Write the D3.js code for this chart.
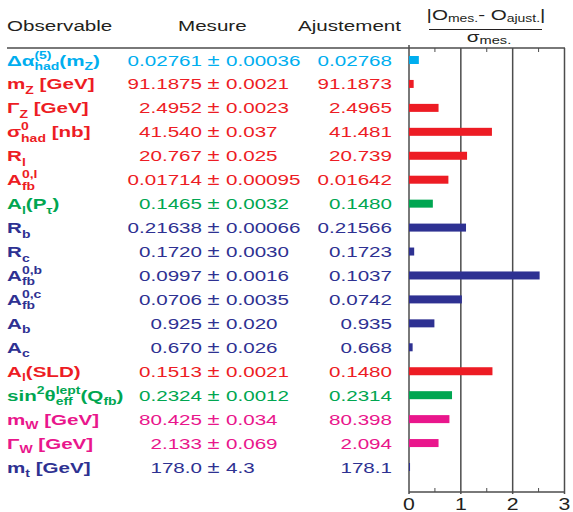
<!DOCTYPE html>
<html>
<head>
<meta charset="utf-8">
<script src="https://cdn.jsdelivr.net/npm/d3@7"></script>
<style>
  html, body { margin: 0; padding: 0; background: #fff; }
  text { font-family: "Liberation Sans", Arial, sans-serif; }
</style>
</head>
<body>
<svg id="canvas" width="573" height="512"></svg>
<script>
// observables, _x / _{..} subscript, ^x / ^{..} superscript
const observables = [
  "Δα^{(5)}_{had}(m_Z)", "m_Z [GeV]", "Γ_Z [GeV]", "σ^0_{had} [nb]", "R_l", "A^{0,l}_{fb}",
  "A_l(P_τ)", "R_b", "R_c", "A^{0,b}_{fb}", "A^{0,c}_{fb}", "A_b", "A_c", "A_l(SLD)",
  "sin^2θ^{lept}_{eff}(Q_{fb})", "m_W [GeV]", "Γ_W [GeV]", "m_t [GeV]"
];
const measured = ["0.02761", "91.1875", "2.4952", "41.540", "20.767", "0.01714", "0.1465", "0.21638",
  "0.1720", "0.0997", "0.0706", "0.925", "0.670", "0.1513", "0.2324", "80.425", "2.133", "178.0"];
const errors = ["0.00036", "0.0021", "0.0023", "0.037", "0.025", "0.00095", "0.0032", "0.00066",
  "0.0030", "0.0016", "0.0035", "0.020", "0.026", "0.0021", "0.0012", "0.034", "0.069", "4.3"];
const fitted = ["0.02768", "91.1873", "2.4965", "41.481", "20.739", "0.01642", "0.1480", "0.21566",
  "0.1723", "0.1037", "0.0742", "0.935", "0.668", "0.1480", "0.2314", "80.398", "2.094", "178.1"];
const pulls = [0.19, 0.09, 0.57, 1.60, 1.12, 0.76, 0.46, 1.10, 0.10, 2.52, 1.02, 0.49, 0.07, 1.61, 0.83, 0.78, 0.57, 0.02];
const groups = ["had", "z", "z", "z", "z", "z", "tau", "hf", "hf", "hf", "hf", "hf", "hf", "z", "tau", "w", "w", "hf"];
const axisTicks = [0, 1, 2, 3];

const groupColor = {
  had: "#00aeef", z: "#ed1c24", tau: "#00a651", hf: "#2e3192", w: "#e9168c"
};

const SX = 1.33;      // text in the picture is stretched horizontally
const FS = 15.5;
const ink = "#231f20";
const gridCol = "#4d4d4d";

const svg = d3.select("#canvas");

const x = d3.scaleLinear().domain([0, 3]).range([409, 564.5]);
const y = d3.scalePoint().domain(d3.range(observables.length)).range([60, 467]);

function parseLabel(s) {
  const segs = [];
  const re = /([\^_])(\{([^}]*)\}|(.))/g;
  let last = 0, m;
  while ((m = re.exec(s))) {
    if (m.index > last) segs.push({t: s.slice(last, m.index), k: "n"});
    segs.push({t: m[3] !== undefined ? m[3] : m[4], k: m[1] === "^" ? "sup" : "sub"});
    last = re.lastIndex;
  }
  if (last < s.length) segs.push({t: s.slice(last), k: "n"});
  return segs;
}

function richText(sel, segs, opts) {
  const off = {n: 0, sup: opts.sup, sub: opts.sub};
  let cur = 0;
  const spans = segs.map(s => {
    const ts = sel.append("tspan").text(s.t)
      .attr("font-size", s.k === "n" ? FS : opts.small)
      .attr("dy", off[s.k] - cur);
    cur = off[s.k];
    return {ts, s};
  });
  // stack a subscript under a preceding superscript
  for (let i = 1; i < spans.length; i++) {
    const a = spans[i - 1], b = spans[i];
    if (a.s.k === "sup" && b.s.k === "sub") {
      const wa = a.ts.node().getComputedTextLength();
      b.ts.attr("dx", -wa);
      const wb = b.ts.node().getComputedTextLength();
      if (wa > wb && spans[i + 1]) spans[i + 1].ts.attr("dx", wa - wb);
    }
  }
}

function txt(px, py, anchor, color) {
  return svg.append("text")
    .attr("transform", `translate(${px},${py}) scale(${SX},1)`)
    .attr("text-anchor", anchor)
    .attr("font-size", FS)
    .attr("fill", color);
}

// Header
txt(7, 31, "start", ink).text("Observable");
txt(178, 31, "start", ink).text("Mesure");
txt(298, 31, "start", ink).text("Ajustement");
richText(txt(486, 20, "middle", ink), parseLabel("|O_{mes.}- O_{ajust.}|"), {sup: -5, sub: 1.5, small: 10.5});
richText(txt(489, 42, "middle", ink), parseLabel("σ_{mes.}"), {sup: -5, sub: 1.5, small: 11});
svg.append("line").attr("x1", 429).attr("x2", 542).attr("y1", 29.5).attr("y2", 29.5)
  .attr("stroke", ink).attr("stroke-width", 1.2);

svg.append("line").attr("x1", 7).attr("x2", 565).attr("y1", 48).attr("y2", 48)
  .attr("stroke", gridCol).attr("stroke-width", 1.3);

// Grid and axis
svg.selectAll("line.grid").data(axisTicks).enter().append("line")
  .attr("class", "grid")
  .attr("x1", d => x(d)).attr("x2", d => x(d))
  .attr("y1", d => d === 0 ? 45 : 48).attr("y2", 494)
  .attr("stroke", gridCol).attr("stroke-width", 1.5);

svg.append("line").attr("x1", x(0)).attr("x2", x(3)).attr("y1", 492).attr("y2", 492)
  .attr("stroke", gridCol).attr("stroke-width", 1.3);

const minor = [0.5, 1.5, 2.5];
svg.selectAll("line.mtop").data(minor).enter().append("line")
  .attr("x1", d => x(d)).attr("x2", d => x(d)).attr("y1", 48).attr("y2", 52)
  .attr("stroke", gridCol).attr("stroke-width", 1);
svg.selectAll("line.mbot").data(minor).enter().append("line")
  .attr("x1", d => x(d)).attr("x2", d => x(d)).attr("y1", 492).attr("y2", 488)
  .attr("stroke", gridCol).attr("stroke-width", 1);

axisTicks.forEach(t => txt(x(t), 510, "middle", ink).attr("font-size", 16).text(t));

// Bars
svg.selectAll("rect.bar").data(pulls).enter().append("rect")
  .attr("class", "bar")
  .attr("x", x(0))
  .attr("y", (d, i) => y(i) - 4)
  .attr("width", d => Math.max(1, x(d) - x(0)))
  .attr("height", 8)
  .attr("fill", (d, i) => groupColor[groups[i]]);

// Rows
observables.forEach((lab, i) => {
  const c = groupColor[groups[i]];
  const base = y(i) + 5.5;
  const t = txt(7, base, "start", c).attr("font-weight", "bold");
  richText(t, parseLabel(lab), {sup: -7, sub: 4.5, small: 10.5});
  txt(202, base, "end", c).text(measured[i]);
  txt(213.5, base, "middle", c).attr("font-size", 16.5).text("±");
  txt(226, base, "start", c).text(errors[i]);
  txt(392, base, "end", c).text(fitted[i]);
});
</script>
</body>
</html>
